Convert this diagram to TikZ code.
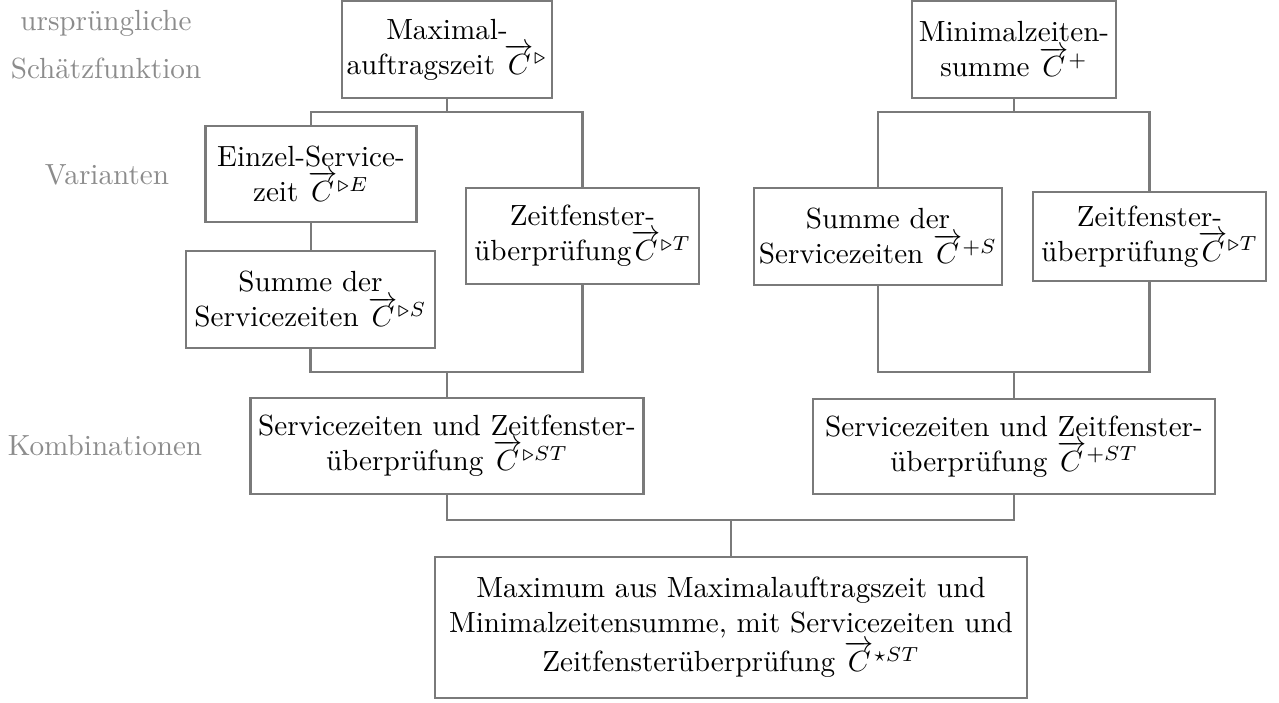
\documentclass[tikz,border=0pt]{standalone}
\usepackage{amsmath,amssymb}
\begin{document}
\begin{tikzpicture}[x=0.343pt,y=-0.343pt,
  bx/.style n args={2}{draw=black!52, line width=0.7pt, rectangle, inner sep=0pt,
     align=center, minimum width=#1*0.343pt, minimum height=#2*0.343pt},
  lbl/.style={text=black!45, align=center},
  conn/.style={draw=black!52, line width=0.7pt}]
\useasboundingbox (0,0) rectangle (1279,702);
% labels
\node[lbl] (l1) at (106,45) {ursprüngliche\\[4.5pt]Schätzfunktion};
\node[lbl] (l2) at (107,175) {Varianten};
\node[lbl] (l3) at (105,446) {Kombinationen};
% boxes
\node[bx={210}{97}] (max) at (447,49.5) {Maximal-\\auftragszeit $\overrightarrow{C}^{\triangleright}$};
\node[bx={204}{97}] (min) at (1014,49.5) {Minimalzeiten-\\summe $\overrightarrow{C}^{+}$};
\node[bx={211}{96}] (einz) at (311,174) {Einzel-Service-\\zeit $\overrightarrow{C}^{\triangleright E}$};
\node[bx={249}{97}] (sumL) at (310.5,299.5) {Summe der\\Servicezeiten $\overrightarrow{C}^{\triangleright S}$};
\node[bx={233}{96}] (zeitL) at (582.5,236) {Zeitfenster-\\überprüfung$\overrightarrow{C}^{\triangleright T}$};
\node[bx={248}{97}] (sumR) at (878,236.5) {Summe der\\Servicezeiten $\overrightarrow{C}^{+S}$};
\node[bx={233}{89}] (zeitR) at (1149.5,236.5) {Zeitfenster-\\überprüfung$\overrightarrow{C}^{\triangleright T}$};
\node[bx={393}{96}] (combL) at (447,446) {Servicezeiten und Zeitfenster-\\überprüfung $\overrightarrow{C}^{\triangleright ST}$};
\node[bx={402}{95}] (combR) at (1014,446.5) {Servicezeiten und Zeitfenster-\\überprüfung $\overrightarrow{C}^{+ST}$};
\node[bx={592}{141}] (bot) at (731,627.5) {Maximum aus Maximalauftragszeit und\\Minimalzeitensumme, mit Servicezeiten und\\Zeitfensterüberprüfung $\overrightarrow{C}^{\star ST}$};
% junctions
\coordinate (j1) at (447,112);
\coordinate (j2) at (447,372);
\coordinate (j3) at (1014,112);
\coordinate (j4) at (1014,372);
\coordinate (j5) at (731,520);
% connectors
\draw[conn] (max.south) -- (j1);
\draw[conn] (einz.north) |- (j1) -| (zeitL.north);
\draw[conn] (einz.south) -- (einz.south |- sumL.north);
\draw[conn] (sumL.south) |- (j2) -| (zeitL.south);
\draw[conn] (j2) -- (combL.north);
\draw[conn] (min.south) -- (j3);
\draw[conn] (sumR.north) |- (j3) -| (zeitR.north);
\draw[conn] (sumR.south) |- (j4) -| (zeitR.south);
\draw[conn] (j4) -- (combR.north);
\draw[conn] (combL.south) |- (j5) -| (combR.south);
\draw[conn] (j5) -- (bot.north);
\end{tikzpicture}
\end{document}
